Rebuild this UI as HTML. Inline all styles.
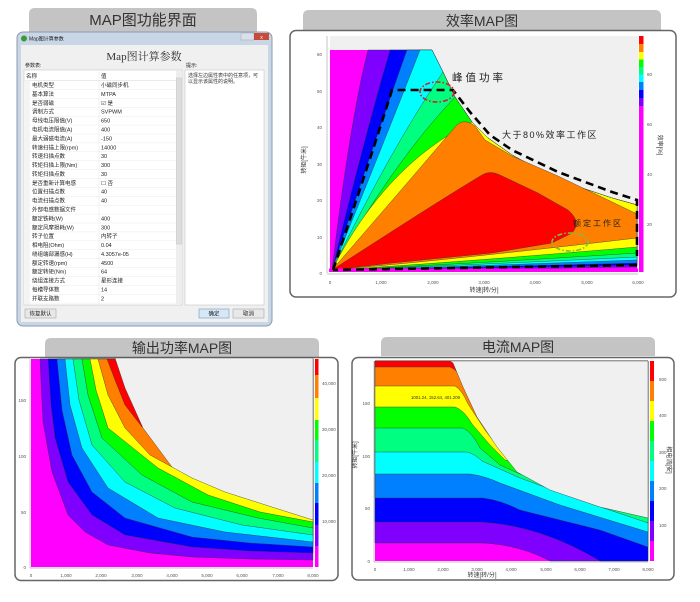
<!DOCTYPE html>
<html><head><meta charset="utf-8"><style>
html,body{margin:0;padding:0;background:#fff;}
svg{display:block;}
text{font-family:"Liberation Sans","Noto Sans CJK SC",sans-serif;}
.t{font-size:4.5px;fill:#555;}
.r{font-size:5.5px;fill:#222;}
</style></head><body>
<svg width="700" height="602" viewBox="0 0 700 602" xmlns="http://www.w3.org/2000/svg">
<!-- ============ TOP LEFT: dialog ============ -->
<path d="M29,32 V14 Q29,8 35,8 H251 Q257,8 257,14 V32 Z" fill="#c4c4c4"/>
<text x="143" y="25" font-size="15" text-anchor="middle" fill="#333">MAP图功能界面</text>
<rect x="17" y="32" width="255" height="294" rx="6" fill="#c9d6e6" stroke="#8a9ab0" stroke-width="1"/>
<rect x="21" y="45" width="247" height="277" fill="#f0f0f0"/>
<circle cx="24" cy="38.5" r="3" fill="#3a9a3a"/>
<text x="29" y="40.5" font-size="5" fill="#222">Map图计算参数</text>
<rect x="241" y="33" width="13" height="7" fill="#d8e0ea" stroke="#99a" stroke-width="0.4"/>
<rect x="254" y="33" width="15" height="7" fill="#c84a3a"/>
<text x="261.5" y="39" font-size="5" fill="#fff" text-anchor="middle">x</text>
<text x="144" y="60" font-size="11" text-anchor="middle" fill="#333" style="font-family:'Liberation Serif','Noto Serif CJK SC',serif">Map图计算参数</text>
<text x="25" y="67" font-size="5" fill="#222">参数表:</text>
<text x="186" y="67" font-size="5" fill="#222">提示:</text>
<rect x="24" y="70" width="158" height="235" fill="#fff" stroke="#bbb" stroke-width="0.5"/>
<rect x="185" y="70" width="79" height="235" fill="#fff" stroke="#bbb" stroke-width="0.5"/>
<text x="188" y="77" font-size="5" fill="#333">选择左边属性表中的任意项，可</text>
<text x="188" y="83" font-size="5" fill="#333">以显示该属性的说明。</text>
<rect x="176" y="71" width="6" height="233" fill="#eee"/>
<rect x="176.5" y="78" width="5" height="166" fill="#ddd" stroke="#bbb" stroke-width="0.4"/>
<text x="26" y="78" class="r">名称</text><text x="101" y="78" class="r">值</text>
<line x1="24" y1="80.5" x2="176" y2="80.5" stroke="#ccc" stroke-width="0.4"/>
<line x1="99" y1="71" x2="99" y2="305" stroke="#ddd" stroke-width="0.4"/>
<rect x="24" y="80.5" width="6" height="224" fill="#f4f4f4"/>
<g stroke="#e6e6e6" stroke-width="0.4">
<line x1="30" y1="89.5" x2="176" y2="89.5"/><line x1="30" y1="98.4" x2="176" y2="98.4"/><line x1="30" y1="107.3" x2="176" y2="107.3"/><line x1="30" y1="116.2" x2="176" y2="116.2"/><line x1="30" y1="125.1" x2="176" y2="125.1"/><line x1="30" y1="134" x2="176" y2="134"/><line x1="30" y1="142.9" x2="176" y2="142.9"/><line x1="30" y1="151.8" x2="176" y2="151.8"/><line x1="30" y1="160.7" x2="176" y2="160.7"/><line x1="30" y1="169.6" x2="176" y2="169.6"/><line x1="30" y1="178.5" x2="176" y2="178.5"/><line x1="30" y1="187.4" x2="176" y2="187.4"/><line x1="30" y1="196.3" x2="176" y2="196.3"/><line x1="30" y1="205.2" x2="176" y2="205.2"/><line x1="30" y1="214.1" x2="176" y2="214.1"/><line x1="30" y1="223" x2="176" y2="223"/><line x1="30" y1="231.9" x2="176" y2="231.9"/><line x1="30" y1="240.8" x2="176" y2="240.8"/><line x1="30" y1="249.7" x2="176" y2="249.7"/><line x1="30" y1="258.6" x2="176" y2="258.6"/><line x1="30" y1="267.5" x2="176" y2="267.5"/><line x1="30" y1="276.4" x2="176" y2="276.4"/><line x1="30" y1="285.3" x2="176" y2="285.3"/><line x1="30" y1="294.2" x2="176" y2="294.2"/><line x1="30" y1="303.1" x2="176" y2="303.1"/>
</g>
<g class="r">
<text x="32" y="87">电机类型</text><text x="101" y="87">小磁同步机</text>
<text x="32" y="96">基本算法</text><text x="101" y="96">MTPA</text>
<text x="32" y="105">是否弱磁</text><text x="101" y="105">☑ 是</text>
<text x="32" y="113.5">调制方式</text><text x="101" y="113.5">SVPWM</text>
<text x="32" y="122.5">母线电压限值(V)</text><text x="101" y="122.5">650</text>
<text x="32" y="131.5">电机电流限值(A)</text><text x="101" y="131.5">400</text>
<text x="32" y="140.5">最大弱磁电流(A)</text><text x="101" y="140.5">-150</text>
<text x="32" y="149.5">转速扫描上限(rpm)</text><text x="101" y="149.5">14000</text>
<text x="32" y="158">转速扫描点数</text><text x="101" y="158">30</text>
<text x="32" y="167">转矩扫描上限(Nm)</text><text x="101" y="167">300</text>
<text x="32" y="176">转矩扫描点数</text><text x="101" y="176">30</text>
<text x="32" y="185">是否重新计算电感</text><text x="101" y="185">☐ 否</text>
<text x="32" y="193.5">位置扫描点数</text><text x="101" y="193.5">40</text>
<text x="32" y="202.5">电流扫描点数</text><text x="101" y="202.5">40</text>
<text x="32" y="211.5">外部电感数据文件</text>
<text x="32" y="220.5">额定铁耗(W)</text><text x="101" y="220.5">400</text>
<text x="32" y="229.5">额定风摩损耗(W)</text><text x="101" y="229.5">300</text>
<text x="32" y="238">转子位置</text><text x="101" y="238">内转子</text>
<text x="32" y="247">相电阻(Ohm)</text><text x="101" y="247">0.04</text>
<text x="32" y="256">绕组端部漏感(H)</text><text x="101" y="256">4.3057e-05</text>
<text x="32" y="265">额定转速(rpm)</text><text x="101" y="265">4500</text>
<text x="32" y="273.5">额定转矩(Nm)</text><text x="101" y="273.5">64</text>
<text x="32" y="282.5">绕组连接方式</text><text x="101" y="282.5">星形连接</text>
<text x="32" y="291.5">每槽导体数</text><text x="101" y="291.5">14</text>
<text x="32" y="300.5">并联支路数</text><text x="101" y="300.5">2</text>
</g>
<rect x="25" y="309" width="31" height="9" fill="#e8e8e8" stroke="#999" stroke-width="0.5"/>
<text x="40.5" y="315.5" class="r" text-anchor="middle">恢复默认</text>
<rect x="199" y="309" width="30" height="9" fill="#d6e8f6" stroke="#5a8ab8" stroke-width="0.5"/>
<text x="214" y="315.5" class="r" text-anchor="middle">确定</text>
<rect x="233" y="309" width="31" height="9" fill="#e8e8e8" stroke="#999" stroke-width="0.5"/>
<text x="248.5" y="315.5" class="r" text-anchor="middle">取消</text>

<!-- ============ TOP RIGHT: efficiency ============ -->
<path d="M303,30 V16 Q303,10 309,10 H655 Q661,10 661,16 V30 Z" fill="#c4c4c4"/>
<text x="482" y="26" font-size="14" text-anchor="middle" fill="#333">效率MAP图</text>
<rect x="290" y="30.5" width="386" height="266.5" rx="6" fill="#fff" stroke="#666" stroke-width="1.5"/>
<rect x="330" y="36" width="308" height="236" fill="#f0f0f0"/>
<path d="M330,50 H432 L443,72 L455,97 L472,122 L488,138 L512,155 L558,180 L612,198 L637,205 V272 H330 Z" fill="#ff00ff"/>
<g stroke="#333" stroke-width="0.4">
<path d="M332,270 Q350,120 368,50 H432 L443,72 L455,97 L472,122 L488,138 L512,155 L558,180 L612,198 L637,205 V267 Q450,270 332,270 Z" fill="#8000ff"/>
<path d="M332,270 Q365,135 390,50 H432 L443,72 L455,97 L472,122 L488,138 L512,155 L558,180 L612,198 L637,205 V265 Q450,269 332,270 Z" fill="#0000ff"/>
<path d="M332,270 Q375,140 407,50 H432 L443,72 L455,97 L472,122 L488,138 L512,155 L558,180 L612,198 L637,205 V263 Q450,268 332,270 Z" fill="#0080ff"/>
<path d="M332,270 Q385,140 420,50 H432 L443,72 L455,97 L472,122 L488,138 L512,155 L558,180 L612,198 L637,205 V260 Q450,267 332,270 Z" fill="#00ffff"/>
<path d="M332,270 Q390,150 443,72 L455,97 L472,122 L488,138 L512,155 L558,180 L612,198 L637,205 V257 Q450,266 332,270 Z" fill="#00ff80"/>
<path d="M332,270 Q395,160 455,97 L472,122 L488,138 L512,155 L558,180 L612,198 L637,205 V253 Q450,265 332,270 Z" fill="#00ff00"/>
<path d="M332,270 Q385,165 472,122 L488,138 L512,155 L558,180 L612,198 L637,205 V247 Q450,263 332,270 Z" fill="#ffff00"/>
<path d="M332,270 Q410,180 455,127 Q463,117 475,126 L485,140 L512,156 L558,176 L637,214 V238 Q450,260 332,270 Z" fill="#ff8000"/>
<path d="M332,270 Q440,200 482,175 Q490,170 500,175 L538,193 L568,210 Q582,222 572,233 L552,243 L492,253 L392,263 Z" fill="#ff0000"/>
</g>
<rect x="329" y="268.5" width="309" height="3.5" fill="#ff00ff"/>
<path d="M333,270 Q370,160 392,90 H453 L470,112 L490,135 L512,150 L558,172 L612,192 L637,200 V256 M637,265 L333,270" fill="none" stroke="#000" stroke-width="2.6" stroke-dasharray="8,5"/>
<ellipse cx="437" cy="92" rx="17" ry="10" fill="none" stroke="#d42020" stroke-width="1.6" stroke-dasharray="5,2,1.5,2"/>
<ellipse cx="570" cy="242" rx="18" ry="9" fill="none" stroke="#7cc040" stroke-width="1.6" stroke-dasharray="5,2,1.5,2"/>
<g style="font-family:'Liberation Serif','Noto Serif CJK SC',serif" fill="#222">
<text x="452" y="81" font-size="10.5" letter-spacing="3">峰值功率</text>
<text x="502" y="138" font-size="9" letter-spacing="1.5">大于80%效率工作区</text>
<text x="573" y="226" font-size="8" letter-spacing="2">额定工作区</text>
</g>
<rect x="639" y="36" width="4.5" height="8" fill="#ff0000"/><rect x="639" y="44" width="4.5" height="8" fill="#ff8000"/><rect x="639" y="52" width="4.5" height="7.5" fill="#ffff00"/><rect x="639" y="59.5" width="4.5" height="7.5" fill="#00ff00"/><rect x="639" y="67" width="4.5" height="7.5" fill="#00ff80"/><rect x="639" y="74.5" width="4.5" height="7.5" fill="#00ffff"/><rect x="639" y="82" width="4.5" height="8" fill="#0080ff"/><rect x="639" y="90" width="4.5" height="8" fill="#0000ff"/><rect x="639" y="98" width="4.5" height="8" fill="#8000ff"/><rect x="639" y="106" width="4.5" height="166" fill="#ff00ff"/>
<g class="t"><text x="647" y="76">80</text><text x="647" y="126">60</text><text x="647" y="176">40</text><text x="647" y="226">20</text></g>
<text transform="translate(658,145) rotate(90)" font-size="6" fill="#333" text-anchor="middle">效率[%]</text>
<line x1="327" y1="36" x2="327" y2="273" stroke="#888" stroke-width="0.5"/>
<line x1="327" y1="274" x2="638" y2="274" stroke="#888" stroke-width="0.5"/>
<g class="t" text-anchor="end"><text x="322" y="275">0</text><text x="322" y="239">10</text><text x="322" y="202">20</text><text x="322" y="166">30</text><text x="322" y="129">40</text><text x="322" y="93">50</text><text x="322" y="56">60</text></g>
<g class="t" text-anchor="middle"><text x="330" y="284">0</text><text x="381" y="284">1,000</text><text x="433" y="284">2,000</text><text x="484" y="284">3,000</text><text x="535" y="284">4,000</text><text x="587" y="284">5,000</text><text x="638" y="284">6,000</text></g>
<text x="484" y="292" font-size="6" fill="#333" text-anchor="middle">转速[转/分]</text>
<text transform="translate(306,160) rotate(-90)" font-size="6" fill="#333" text-anchor="middle">转矩[牛米]</text>

<!-- ============ BOTTOM LEFT: output power ============ -->
<path d="M45,357 V344 Q45,338 51,338 H313 Q319,338 319,344 V357 Z" fill="#c4c4c4"/>
<text x="182" y="353" font-size="14" text-anchor="middle" fill="#333">输出功率MAP图</text>
<rect x="15" y="357.5" width="323" height="223" rx="6" fill="#fff" stroke="#666" stroke-width="1.5"/>
<rect x="31" y="359" width="282" height="208" fill="#ff00ff"/>
<g stroke="#333" stroke-width="0.4" stroke-linejoin="round">
<path d="M40,359 L43,422 L52,472 L68,515 L85,532 L108,545 L150,553 L192,557 L250,559 L313,560 V359 Z" fill="#8000ff"/>
<path d="M48,359 L51,405 L55,438 L68,482 L92,515 L125,535 L192,547 L250,551 L313,553 V359 Z" fill="#0000ff"/>
<path d="M57,359 L62,410 L72,455 L92,492 L125,518 L192,537 L250,543 L313,547 V359 Z" fill="#0080ff"/>
<path d="M65,359 L70,405 L82,448 L108,488 L158,518 L225,532 L313,542 V359 Z" fill="#00ffff"/>
<path d="M73,359 L79,400 L92,445 L125,482 L175,508 L242,525 L313,535 V359 Z" fill="#00ff80"/>
<path d="M82,359 L88,395 L102,438 L142,475 L192,502 L258,518 L313,528 V359 Z" fill="#00ff00"/>
<path d="M90,359 L96,390 L108,428 L158,468 L208,495 L260,512 L313,522 V359 Z" fill="#ffff00"/>
<path d="M98,359 L108,395 L125,428 L150,455 L172,467 L313,500 V359 Z" fill="#ff8000"/>
<path d="M107,359 L115,380 L125,405 L142,427 L313,470 V359 Z" fill="#ff0000"/>
<path d="M115,358 L125,388 L143,428 L172,467 L192,478 L225,492 L275,508 L313,520 V358 Z" fill="#f0f0f0"/>
</g>
<rect x="315" y="359" width="3.5" height="16" fill="#ff0000"/><rect x="315" y="375" width="3.5" height="23" fill="#ff8000"/><rect x="315" y="398" width="3.5" height="22" fill="#ffff00"/><rect x="315" y="420" width="3.5" height="20" fill="#00ff00"/><rect x="315" y="440" width="3.5" height="22" fill="#00ff80"/><rect x="315" y="462" width="3.5" height="21" fill="#00ffff"/><rect x="315" y="483" width="3.5" height="20" fill="#0080ff"/><rect x="315" y="503" width="3.5" height="22" fill="#0000ff"/><rect x="315" y="525" width="3.5" height="21" fill="#8000ff"/><rect x="315" y="546" width="3.5" height="21" fill="#ff00ff"/>
<g class="t"><text x="322" y="385">40,000</text><text x="322" y="431">30,000</text><text x="322" y="477">20,000</text><text x="322" y="523">10,000</text></g>
<line x1="30" y1="359" x2="30" y2="568" stroke="#888" stroke-width="0.5"/>
<line x1="30" y1="568" x2="313" y2="568" stroke="#888" stroke-width="0.5"/>
<g class="t" text-anchor="end"><text x="26" y="569">0</text><text x="26" y="514">50</text><text x="26" y="458">100</text><text x="26" y="402">150</text></g>
<g class="t" text-anchor="middle"><text x="31" y="577">0</text><text x="66" y="577">1,000</text><text x="101" y="577">2,000</text><text x="137" y="577">3,000</text><text x="172" y="577">4,000</text><text x="207" y="577">5,000</text><text x="242" y="577">6,000</text><text x="278" y="577">7,000</text><text x="313" y="577">8,000</text></g>

<!-- ============ BOTTOM RIGHT: current ============ -->
<path d="M381,356 V343 Q381,337 387,337 H649 Q655,337 655,343 V356 Z" fill="#c4c4c4"/>
<text x="518" y="352" font-size="14" text-anchor="middle" fill="#333">电流MAP图</text>
<rect x="352" y="357.5" width="322" height="222.5" rx="6" fill="#fff" stroke="#666" stroke-width="1.5"/>
<rect x="375" y="361" width="273" height="200" fill="#ff00ff"/>
<g stroke="#333" stroke-width="0.4">
<path d="M375,543 H483 Q520,545 550,561 H648 V361 H375 Z" fill="#8000ff"/>
<path d="M375,522 H480 Q540,525 600,561 H648 V361 H375 Z" fill="#0000ff"/>
<path d="M375,498 H483 Q500,500 520,510 L600,530 L648,547 V361 H375 Z" fill="#0080ff"/>
<path d="M375,474 H470 Q485,476 500,483 L560,505 L648,532 V361 H375 Z" fill="#00ffff"/>
<path d="M375,452 H467 Q475,454 482,461 L520,478 L580,500 L648,523 V361 H375 Z" fill="#00ff80"/>
<path d="M375,428 H463 Q472,432 480,448 L500,465 L520,474 L648,512 V361 H375 Z" fill="#00ff00"/>
<path d="M375,407 H455 Q464,410 472,424 L490,445 L505,460 L648,500 V361 H375 Z" fill="#ffff00"/>
<path d="M375,386 H455 Q462,390 468,404 L485,430 L500,450 L648,490 V361 H375 Z" fill="#ff8000"/>
<path d="M375,367 H450 Q458,370 463,382 L480,410 L495,440 L648,480 V361 H375 Z" fill="#ff0000"/>
<path d="M450,361 L453,363 L463,387 L477,417 L497,447 L517,472 L550,490 L600,507 L648,518 V361 Z" fill="#f0f0f0"/>
</g>
<text x="411" y="399" font-size="4.3" fill="#333">1001.24, 152.64, 401.209</text>
<rect x="650" y="361" width="4" height="20" fill="#ff0000"/><rect x="650" y="381" width="4" height="20" fill="#ff8000"/><rect x="650" y="401" width="4" height="20" fill="#ffff00"/><rect x="650" y="421" width="4" height="20" fill="#00ff00"/><rect x="650" y="441" width="4" height="20" fill="#00ff80"/><rect x="650" y="461" width="4" height="20" fill="#00ffff"/><rect x="650" y="481" width="4" height="20" fill="#0080ff"/><rect x="650" y="501" width="4" height="20" fill="#0000ff"/><rect x="650" y="521" width="4" height="20" fill="#8000ff"/><rect x="650" y="541" width="4" height="20" fill="#ff00ff"/>
<g class="t"><text x="659" y="381">500</text><text x="659" y="417">400</text><text x="659" y="454">300</text><text x="659" y="490">200</text><text x="659" y="527">100</text></g>
<text transform="translate(667,460) rotate(90)" font-size="6" fill="#333" text-anchor="middle">相电流[安]</text>
<line x1="374" y1="361" x2="374" y2="562" stroke="#888" stroke-width="0.5"/>
<line x1="374" y1="562" x2="648" y2="562" stroke="#888" stroke-width="0.5"/>
<g class="t" text-anchor="end"><text x="370" y="563">0</text><text x="370" y="510">50</text><text x="370" y="458">100</text><text x="370" y="405">150</text></g>
<g class="t" text-anchor="middle"><text x="375" y="571">0</text><text x="409" y="571">1,000</text><text x="443" y="571">2,000</text><text x="477" y="571">3,000</text><text x="511" y="571">4,000</text><text x="546" y="571">5,000</text><text x="580" y="571">6,000</text><text x="614" y="571">7,000</text><text x="648" y="571">8,000</text></g>
<text x="482" y="577" font-size="6" fill="#333" text-anchor="middle">转速[转/分]</text>
<text transform="translate(357,455) rotate(-90)" font-size="6" fill="#333" text-anchor="middle">转矩[牛米]</text>
</svg>
</body></html>
